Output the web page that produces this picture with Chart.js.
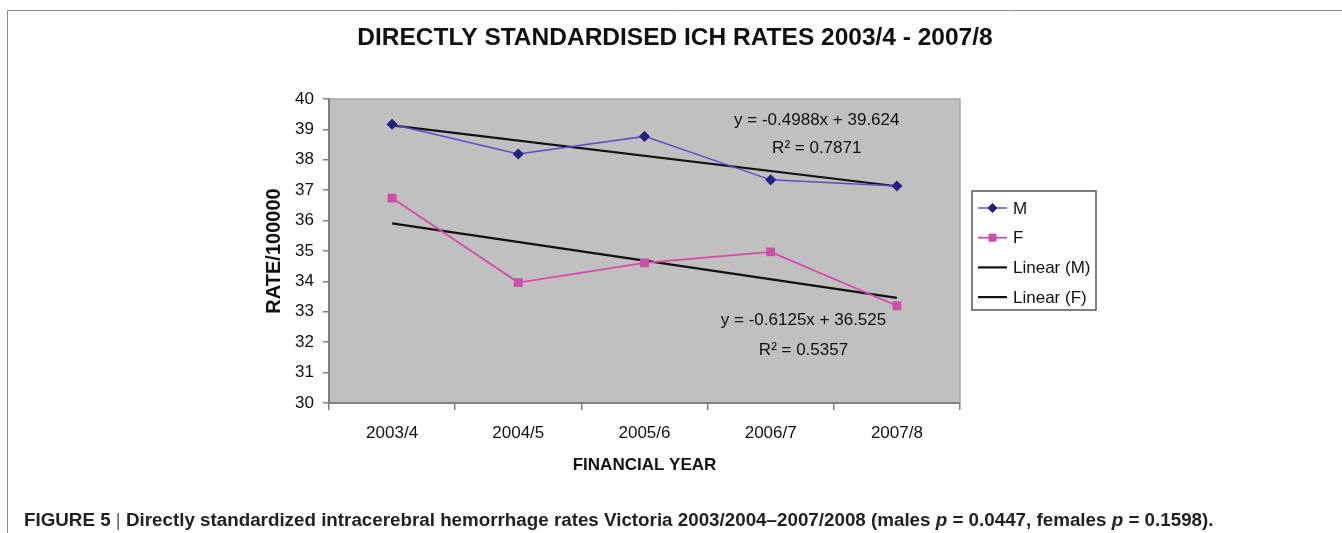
<!DOCTYPE html>
<html>
<head>
<meta charset="utf-8">
<script src="https://cdn.jsdelivr.net/npm/chart.js@4.4.1/dist/chart.umd.min.js"></script>
<style>
  body { margin: 0; background: #fff; }
  #wrap { position: relative; width: 1342px; height: 533px; }
  #caption {
    position: absolute; left: 24px; top: 509px;
    font: bold 18.8px "Liberation Sans", Arial, sans-serif; color: #231f20;
    white-space: nowrap;
  }
  #caption .sep { font-weight: normal; color: #666; }
</style>
</head>
<body>
<div id="wrap">
  <canvas id="ichChart" width="1342" height="533"></canvas>
  <div id="caption">FIGURE 5 <span class="sep">|</span> Directly standardized intracerebral hemorrhage rates Victoria 2003/2004–2007/2008 (males <i>p</i> = 0.0447, females <i>p</i> = 0.1598).</div>
</div>
<script>
// chart data
var years = ['2003/4', '2004/5', '2005/6', '2006/7', '2007/8'];
var maleRates = [39.17, 38.19, 38.77, 37.34, 37.14];
var femaleRates = [36.74, 33.96, 34.61, 34.97, 33.20];
// trend lines: only the two ends, the line spans the gaps
var maleTrend = [39.13, null, null, null, 37.13];
var femaleTrend = [35.91, null, null, null, 33.46];
var yTicks = [30, 31, 32, 33, 34, 35, 36, 37, 38, 39, 40];

var sans = '"Liberation Sans", Arial, sans-serif';

// plot background, frame, equations and legend box
var decorPlugin = {
    id: 'decor',
    beforeDraw: function (chart) {
        var c = chart.ctx, a = chart.chartArea;
        c.save();
        c.fillStyle = '#c0c0c0';
        c.fillRect(a.left, a.top, a.right - a.left, a.bottom - a.top);
        c.strokeStyle = '#a8a8a8';
        c.lineWidth = 1.5;
        c.beginPath();
        c.moveTo(a.left, a.top);
        c.lineTo(a.right, a.top);
        c.lineTo(a.right, a.bottom);
        c.stroke();
        // outer figure frame
        c.strokeStyle = '#8a8a8a';
        c.lineWidth = 1;
        c.beginPath();
        c.moveTo(7.5, 533);
        c.lineTo(7.5, 10.5);
        c.lineTo(1342, 10.5);
        c.stroke();
        c.restore();
    },
    afterDraw: function (chart) {
        var c = chart.ctx;
        var x = chart.scales.x, y = chart.scales.y;
        c.save();
        c.fillStyle = '#111';
        c.font = '17px ' + sans;
        c.textAlign = 'center';
        c.textBaseline = 'middle';
        c.fillText('y = -0.4988x + 39.624', x.getPixelForValue(3.365), y.getPixelForValue(39.30));
        c.fillText('R\u00b2 = 0.7871', x.getPixelForValue(3.365), y.getPixelForValue(38.38));
        c.fillText('y = -0.6125x + 36.525', x.getPixelForValue(3.26), y.getPixelForValue(32.72));
        c.fillText('R\u00b2 = 0.5357', x.getPixelForValue(3.26), y.getPixelForValue(31.74));

        // legend
        var bx = 972, by = 191, bw = 124, bh = 119;
        c.fillStyle = '#fff';
        c.fillRect(bx, by, bw, bh);
        c.strokeStyle = '#555';
        c.lineWidth = 1.5;
        c.strokeRect(bx, by, bw, bh);
        c.font = '17px ' + sans;
        c.textAlign = 'left';
        chart.data.datasets.forEach(function (ds, i) {
            var ly = 208 + i * 29.7;
            c.strokeStyle = ds.borderColor;
            c.lineWidth = ds.borderWidth;
            c.beginPath();
            c.moveTo(978, ly);
            c.lineTo(1007, ly);
            c.stroke();
            if (ds.pointRadius > 0) {
                c.fillStyle = ds.pointBackgroundColor;
                c.strokeStyle = ds.pointBorderColor;
                c.lineWidth = 1;
                Chart.helpers.drawPoint(c, {
                    pointStyle: ds.pointStyle,
                    radius: ds.pointRadius,
                    borderWidth: 1
                }, 992.5, ly);
            }
            c.fillStyle = '#111';
            c.fillText(ds.label, 1013, ly + 1);
        });
        c.restore();
    }
};

var ctx = document.getElementById('ichChart').getContext('2d');

var ichChart = new Chart(ctx, {
    type: 'line',
    data: {
        labels: years,
        datasets: [{
            label: 'M',
            data: maleRates,
            borderColor: '#5b4fc6',
            backgroundColor: '#24217f',
            pointBackgroundColor: '#24217f',
            pointBorderColor: '#24217f',
            pointStyle: 'rectRot',
            pointRadius: 4.5,
            borderWidth: 1.5
        }, {
            label: 'F',
            data: femaleRates,
            borderColor: '#d84aae',
            backgroundColor: '#cc4fa8',
            pointBackgroundColor: '#cc4fa8',
            pointBorderColor: '#cc4fa8',
            pointStyle: 'rect',
            pointRadius: 5,
            borderWidth: 1.8
        }, {
            label: 'Linear (M)',
            data: maleTrend,
            borderColor: '#111',
            borderWidth: 2.2,
            pointRadius: 0,
            spanGaps: true
        }, {
            label: 'Linear (F)',
            data: femaleTrend,
            borderColor: '#111',
            borderWidth: 2.2,
            pointRadius: 0,
            spanGaps: true
        }]
    },
    options: {
        responsive: false,
        animation: false,
        layout: { padding: { left: 8, right: 0, top: 0, bottom: 0 } },
        plugins: {
            legend: { display: false },
            tooltip: { enabled: false },
            title: {
                display: true,
                text: 'DIRECTLY STANDARDISED ICH RATES 2003/4 - 2007/8',
                color: '#111',
                font: { family: sans, size: 24.5, weight: 'bold' },
                padding: { top: 24, bottom: 45.6 }
            }
        },
        scales: {
            x: {
                type: 'category',
                offset: true,
                grid: { offset: true, drawOnChartArea: false, color: '#808080', tickLength: 7, lineWidth: 1.5 },
                border: { color: '#808080', width: 2 },
                ticks: { color: '#111', font: { family: sans, size: 17 }, padding: 13 },
                title: {
                    display: true,
                    text: 'FINANCIAL YEAR',
                    color: '#111',
                    font: { family: sans, size: 17, weight: 'bold' },
                    padding: { top: 0, bottom: 57 }
                },
                afterFit: function (s) { s.height = 130; }
            },
            y: {
                min: 30,
                max: 40,
                afterBuildTicks: function (s) {
                    s.ticks = yTicks.map(function (v) { return { value: v }; });
                },
                grid: { drawOnChartArea: false, color: '#808080', tickLength: 6, lineWidth: 1.5 },
                border: { color: '#808080', width: 2 },
                ticks: { color: '#111', font: { family: sans, size: 17 }, padding: 9 },
                title: {
                    display: true,
                    text: 'RATE/100000',
                    color: '#111',
                    font: { family: sans, size: 20, weight: 'bold' },
                    padding: { top: 254, bottom: 0 }
                },
                afterFit: function (s) { s.width = 321; }
            },
            // empty scale that keeps room on the right for the legend
            side: {
                type: 'linear',
                position: 'right',
                display: true,
                grid: { display: false },
                border: { display: false },
                ticks: { display: false },
                afterFit: function (s) { s.width = 382; }
            }
        }
    },
    plugins: [decorPlugin]
});
</script>
</body>
</html>
